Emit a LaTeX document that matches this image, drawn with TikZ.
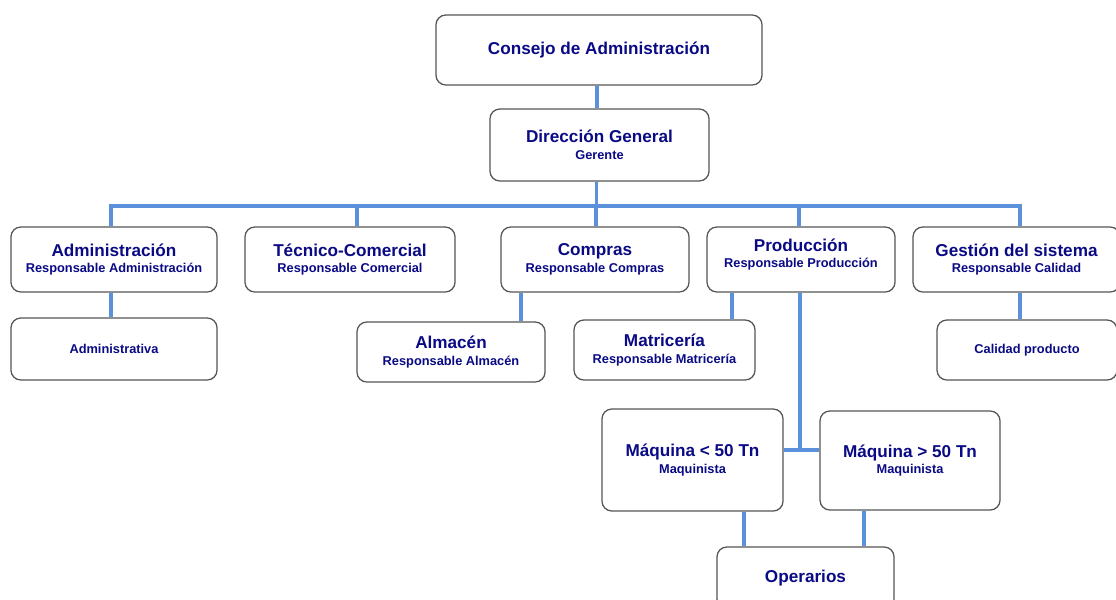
\documentclass[tikz,border=0pt]{standalone}
\usepackage{fontspec}
\setmainfont{Liberation Sans}
\usetikzlibrary{positioning, calc}
\definecolor{navytxt}{HTML}{0A0A85}
\definecolor{linkblue}{HTML}{5A91DA}
\definecolor{boxgray}{HTML}{555555}
\newcommand{\titfont}{\fontsize{12.2}{13}\selectfont}
\newcommand{\subfont}{\fontsize{9.1}{10}\selectfont}
\tikzset{
  caja/.style={draw=boxgray, line width=0.9pt, rounded corners=7pt, fill=white,
    text=navytxt, font=\bfseries\titfont, align=center, inner sep=0pt},
  enlace/.style={draw=linkblue, line width=2.8pt},
}

\begin{document}
\begin{tikzpicture}[x=0.025cm, y=-0.025cm]
  \useasboundingbox (0,0) rectangle (1116,599);

  % Top of the chart
  \node[caja, minimum width=8.15cm, minimum height=1.75cm] (consejo) at (599,50) {Consejo de Administración};
  \node[caja, minimum width=5.475cm, minimum height=1.8cm] (direccion) at (599.5,145) {Dirección General\\[-1pt]{\subfont Gerente}};

  % Departments
  \node[caja, minimum width=5.15cm, minimum height=1.625cm] (admin) at (114,259.5) {Administración\\[-1pt]{\subfont Responsable Administración}};
  \node[caja, minimum width=5.25cm, minimum height=1.625cm] (tec) at (350,259.5) {Técnico-Comercial\\[-1pt]{\subfont Responsable Comercial}};
  \node[caja, minimum width=4.7cm, minimum height=1.625cm] (compras) at (595,259.5) {Compras\\[-1pt]{\subfont Responsable Compras}};
  \node[caja, minimum width=4.7cm, minimum height=1.625cm] (prod) at (801,259.5) {Producción\\[-1pt]{\subfont Responsable Producción}\\[-7pt]{\subfont\strut}};
  \node[caja, minimum width=5.175cm, minimum height=1.625cm] (gestion) at (1016.5,259.5) {Gestión del sistema\\[-1pt]{\subfont Responsable Calidad}};

  % Sections
  \node[caja, minimum width=5.15cm, minimum height=1.55cm] (administrativa) at (114,349) {\subfont Administrativa};
  \node[caja, minimum width=4.7cm, minimum height=1.5cm] (almacen) at (451,352) {Almacén\\[-1pt]{\subfont Responsable Almacén}};
  \node[caja, minimum width=4.525cm, minimum height=1.5cm] (matriceria) at (664.5,350) {Matricería\\[-1pt]{\subfont Responsable Matricería}};
  \node[caja, minimum width=4.5cm, minimum height=1.5cm] (calidad) at (1027,350) {\subfont Calidad producto};

  % Machines
  \node[caja, minimum width=4.525cm, minimum height=2.55cm] (maq1) at (692.5,460) {Máquina < 50 Tn\\[-1pt]{\subfont Maquinista}};
  \node[caja, minimum width=4.5cm, minimum height=2.475cm] (maq2) at (910,460.5) {Máquina > 50 Tn\\[-1pt]{\subfont Maquinista}};
  \node[caja, minimum width=4.425cm, minimum height=1.55cm] (operarios) at (805.5,578) {Operarios};

  % Links
  \draw[enlace] ($(consejo.south)+(-2,0)$) -- ($(direccion.north)+(-2.5,0)$);
  \draw[enlace] ($(admin.north)+(-3,0)$) |- ($(gestion.north)+(3.5,-20)$) -- ($(gestion.north)+(3.5,0)$);
  \draw[enlace] ($(direccion.south)+(-3,0)$) -- ($(direccion.south)+(-3,26)$);
  \foreach \n/\dx in {tec/7, compras/1, prod/-2}{
    \draw[enlace] ($(\n.north)+(\dx,0)$) -- ($(\n.north)+(\dx,-20)$);
  }
  \draw[enlace] ($(admin.south)+(-3,0)$) coordinate (a1) -- (a1 |- administrativa.north);
  \draw[enlace] ($(compras.south)+(-74,0)$) coordinate (c1) -- (c1 |- almacen.north);
  \draw[enlace] ($(prod.south)+(-69,0)$) coordinate (p1) -- (p1 |- matriceria.north);
  \draw[enlace] ($(gestion.south)+(3.5,0)$) coordinate (g1) -- (g1 |- calidad.north);
  \coordinate (union) at ($(prod.south)+(-1,157)$);
  \draw[enlace] ($(prod.south)+(-1,0)$) -- (union);
  \draw[enlace] (union -| maq1.east) -- (union -| maq2.west);
  \draw[enlace] ($(maq1.south)+(51.5,0)$) coordinate (m1) -- (m1 |- operarios.north);
  \draw[enlace] ($(maq2.south)+(-46,0)$) coordinate (m2) -- (m2 |- operarios.north);
\end{tikzpicture}
\end{document}
